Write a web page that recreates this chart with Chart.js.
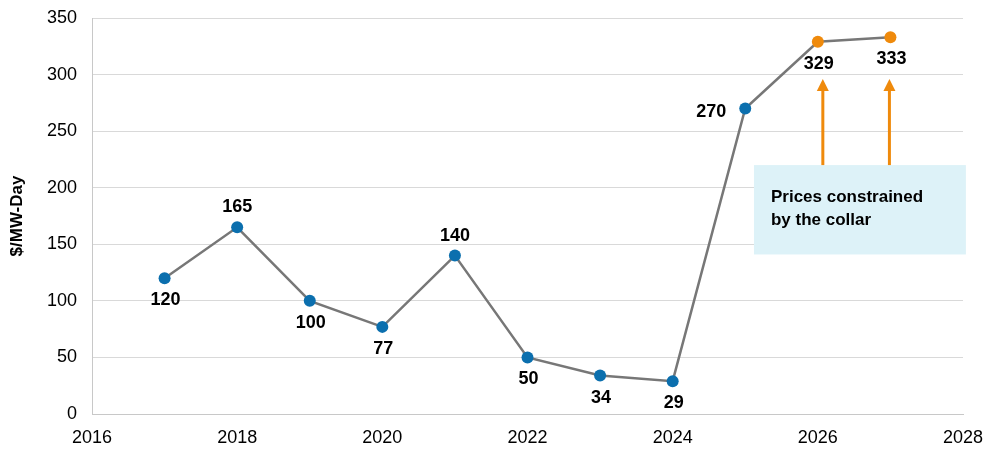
<!DOCTYPE html>
<html lang="en">
<head>
<meta charset="UTF-8">
<title>Capacity price by delivery year</title>
<style>
  html, body { margin: 0; padding: 0; background: #fff; }
  #priceChart { display: block; }
</style>
</head>
<body>
<canvas id="priceChart" width="1000" height="457"></canvas>

<script src="https://cdn.jsdelivr.net/npm/chart.js"></script>
<script>
  // data
  const years = [2017, 2018, 2019, 2020, 2021, 2022, 2023, 2024, 2025, 2026, 2027];
  const prices = [120, 165, 100, 77, 140, 50, 34, 29, 270, 329, 333];
  const labelSide = ['below', 'above', 'below', 'below', 'above', 'below', 'below', 'below', 'left', 'below', 'below'];
  const collarYears = [2026, 2027];
  const xTickRange = [2016, 2028];
  const yTickRange = [0, 350];
  const calloutText = ['Prices constrained', 'by the collar'];

  const FONT = "'Liberation Sans', Arial, sans-serif";
  const BLUE = '#0b6fae';
  const ORANGE = '#ef8a0c';

  const pointColors = years.map(y => collarYears.includes(y) ? ORANGE : BLUE);

  // value labels + the collar call-out
  const annotatePlugin = {
    id: 'annotate',
    afterDatasetsDraw(chart) {
      const { ctx, scales: { x, y } } = chart;
      ctx.save();

      // call-out box
      const bx0 = x.getPixelForValue(2025.12), bx1 = x.getPixelForValue(2028.04);
      const by0 = y.getPixelForValue(220), by1 = y.getPixelForValue(141);
      ctx.fillStyle = '#ddf2f8';
      ctx.fillRect(bx0, by0, bx1 - bx0, by1 - by0);
      ctx.fillStyle = '#000';
      ctx.font = 'bold 17px ' + FONT;
      ctx.textAlign = 'left';
      ctx.textBaseline = 'middle';
      ctx.fillText(calloutText[0], bx0 + 17, by0 + 32);
      ctx.fillText(calloutText[1], bx0 + 17, by0 + 55);

      // arrows up to the constrained points
      const tipY = y.getPixelForValue(296);
      ctx.strokeStyle = ORANGE;
      ctx.fillStyle = ORANGE;
      ctx.lineWidth = 3;
      [5, -1].forEach((dx, i) => {
        const ax = x.getPixelForValue(collarYears[i]) + dx;
        ctx.beginPath();
        ctx.moveTo(ax, by0);
        ctx.lineTo(ax, tipY + 10);
        ctx.stroke();
        ctx.beginPath();
        ctx.moveTo(ax, tipY);
        ctx.lineTo(ax - 6, tipY + 12);
        ctx.lineTo(ax + 6, tipY + 12);
        ctx.closePath();
        ctx.fill();
      });

      // data labels
      ctx.fillStyle = '#000';
      ctx.font = 'bold 18px ' + FONT;
      ctx.textAlign = 'center';
      ctx.textBaseline = 'middle';
      years.forEach((yr, i) => {
        const px = x.getPixelForValue(yr);
        const py = y.getPixelForValue(prices[i]);
        if (labelSide[i] === 'above') ctx.fillText(prices[i], px, py - 20);
        else if (labelSide[i] === 'left') ctx.fillText(prices[i], px - 34, py + 4);
        else ctx.fillText(prices[i], px + 1, py + 22);
      });
      ctx.restore();
    }
  };

  const ctx = document.getElementById('priceChart').getContext('2d');
  new Chart(ctx, {
    type: 'line',
    data: {
      datasets: [{
        data: years.map((yr, i) => ({ x: yr, y: prices[i] })),
        borderColor: '#777777',
        borderWidth: 2.5,
        pointBackgroundColor: pointColors,
        pointBorderColor: pointColors,
        pointRadius: 6,
        pointBorderWidth: 0,
        tension: 0,
        fill: false
      }]
    },
    options: {
      responsive: false,
      animation: false,
      layout: { padding: { top: 18, right: 37, bottom: 0, left: 0 } },
      plugins: {
        legend: { display: false },
        tooltip: { enabled: false }
      },
      scales: {
        x: {
          type: 'linear',
          min: xTickRange[0],
          max: xTickRange[1],
          grid: { display: false, drawTicks: false },
          border: { display: true, color: '#c8c8c8', width: 1 },
          ticks: {
            stepSize: 2,
            padding: 13,
            color: '#000',
            font: { family: FONT, size: 18 },
            callback: v => String(v)
          },
          afterFit: s => { s.height = 43; }
        },
        y: {
          min: yTickRange[0],
          max: yTickRange[1],
          grid: { color: '#d9d9d9', lineWidth: 1, drawTicks: false },
          border: { display: true, color: '#c8c8c8', width: 1 },
          ticks: {
            stepSize: 50,
            padding: 15,
            color: '#000',
            font: { family: FONT, size: 18 }
          },
          title: {
            display: true,
            text: '$/MW-Day',
            color: '#000',
            font: { family: FONT, size: 17, weight: 'bold' },
            padding: { top: 7, bottom: 0 }
          },
          afterFit: s => { s.width = 92; s.paddingTop = 0; s.paddingBottom = 0; }
        }
      }
    },
    plugins: [annotatePlugin]
  });
</script>
</body>
</html>
